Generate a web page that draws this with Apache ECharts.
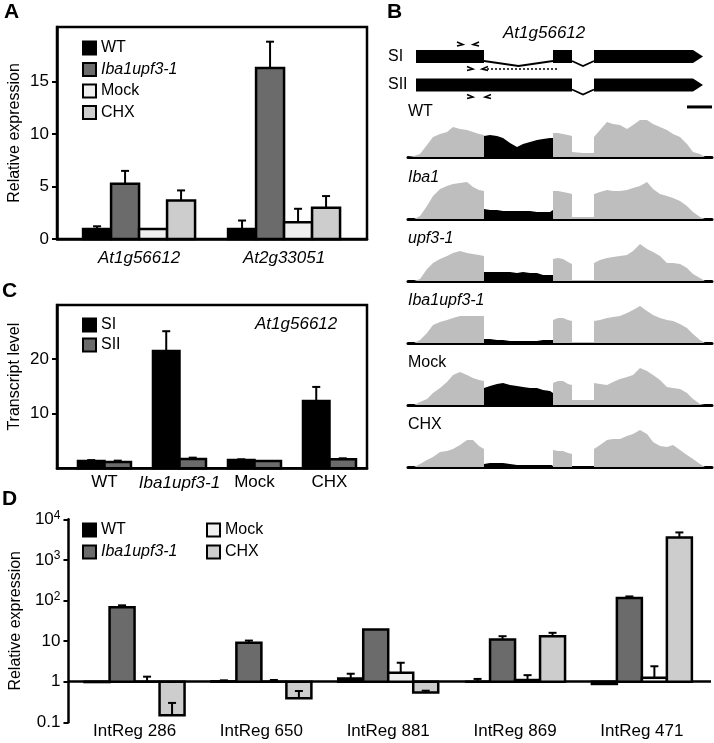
<!DOCTYPE html>
<html><head><meta charset="utf-8">
<script src="https://cdn.jsdelivr.net/npm/echarts@6/dist/echarts.min.js"></script>
<style>html,body{margin:0;padding:0;background:#fff}#c{width:714px;height:743px}</style>
</head><body><div id="c"></div>
<script>
const FONT = '"Liberation Sans", Arial, Helvetica, sans-serif';

// ---------- Panel A ----------
const catsA = ['At1g56612', 'At2g33051'];
const aWT = [0.96, 0.96],  aWTErr = [1.21, 1.76];
const aIba = [5.27, 16.3], aIbaErr = [6.49, 18.8];
const aMock = [0.96, 1.6], aMockErr = [1.02, 2.88];
const aCHX = [3.67, 2.97], aCHXErr = [4.63, 4.09];
const ticksA = [0, 5, 10, 15];

// ---------- Panel C ----------
const catsC = ['WT', 'Iba1upf3-1', 'Mock', 'CHX'];
const cSI = [1.34, 21.5, 1.5, 12.3],  cSIErr = [1.5, 25.1, 1.65, 14.9];
const cSII = [1.16, 1.7, 1.34, 1.65], cSIIErr = [1.4, 1.95, 1.45, 1.83];
const ticksC = [10, 20];

// ---------- Panel D ----------
const catsD = ['IntReg 286', 'IntReg 650', 'IntReg 881', 'IntReg 869', 'IntReg 471'];
const dWT = [0.98, 1.02, 1.2, 1.0, 0.88],    dWTErr = [0.98, 1.08, 1.57, 1.17, 0.88];
const dIba = [68, 9.1, 19.3, 10.9, 116],     dIbaErr = [76, 10.3, 19.9, 13.2, 126];
const dMock = [1.0, 1.0, 1.66, 1.1, 1.25],   dMockErr = [1.33, 1.1, 2.93, 1.45, 2.4];
const dCHX = [0.15, 0.39, 0.54, 13.2, 3570], dCHXErr = [0.30, 0.59, 0.6, 16, 4750];
const ticksD = [0.1, 1, 10, 100, 1000, 10000];

// ---------- Panel B (genomic coordinates, bp) ----------
const geneExons = [[32, 0, 304, 0], [580, 0, 656, 0], [744, 0, 1180, 1], [32, 1, 656, 0], [744, 1, 1180, 1]];
const geneIntrons = [[304, 0, 580], [656, 0, 744], [656, 1, 744]];
const primers = [[208, -0.42, 1], [272, -0.42, -1], [248, 0.44, 1], [308, 0.44, -1], [248, 1.42, 1], [320, 1.42, -1]];
const rtProduct = [[308, 0.44, 600]];
const scaleBar = [[1116, 1.77, 1216]];
const isoforms = ['SI', 'SII'];

const trackNames = ['WT', 'Iba1', 'upf3-1', 'Iba1upf3-1', 'Mock', 'CHX'];
const exon1X = [0, 24, 48, 76, 100, 128, 156, 180, 208, 236, 260, 284, 304];
const intronX = [304, 328, 356, 380, 408, 436, 460, 488, 516, 540, 568, 580];
const restX = [580, 600, 620, 640, 656, 656, 700, 744, 744, 768, 796, 820, 848, 876, 900, 928, 956, 980, 1008, 1036, 1060, 1088, 1116, 1140, 1168, 1188];

const covWT_e1 = [0, 1, 3, 12, 20, 23, 25, 30, 28, 27, 25, 23, 22];
const covWT_in = [21, 22, 21, 19, 14, 10, 13, 15, 17, 18, 19, 19];
const covWT_re = [24, 24, 23, 22, 21, 5, 4, 4, 20, 27, 35, 33, 32, 28, 32, 37, 37, 33, 30, 27, 23, 20, 13, 5, 3, 0];

const covIba_e1 = [0, 0, 3, 13, 23, 30, 33, 35, 36, 37, 32, 29, 28];
const covIba_in = [10, 9, 9, 8, 8, 8, 8, 8, 7, 7, 7, 9];
const covIba_re = [28, 28, 27, 26, 25, 2, 2, 2, 25, 27, 29, 28, 28, 29, 31, 33, 37, 30, 25, 23, 21, 18, 13, 7, 2, 0];

const covUpf_e1 = [0, 0, 2, 12, 18, 22, 25, 28, 30, 28, 27, 26, 25];
const covUpf_in = [9, 9, 9, 9, 9, 8, 9, 8, 8, 6, 6, 6];
const covUpf_re = [22, 23, 22, 19, 17, 1, 1, 1, 18, 21, 23, 24, 25, 26, 30, 37, 32, 29, 25, 18, 18, 17, 13, 7, 3, 0];

const covIbaUpf_e1 = [0, 0, 3, 10, 18, 21, 23, 25, 27, 27, 27, 27, 27];
const covIbaUpf_in = [4, 4, 3, 3, 2, 2, 2, 2, 2, 3, 3, 3];
const covIbaUpf_re = [23, 25, 25, 23, 22, 1, 1, 1, 22, 23, 25, 26, 27, 30, 33, 37, 32, 28, 25, 23, 22, 19, 15, 9, 3, 0];

const covMock_e1 = [0, 0, 3, 6, 12, 17, 23, 30, 33, 30, 27, 25, 24];
const covMock_in = [17, 19, 21, 22, 20, 19, 18, 17, 17, 15, 14, 12];
const covMock_re = [22, 24, 24, 21, 20, 5, 5, 5, 22, 21, 20, 23, 26, 28, 30, 37, 34, 30, 25, 18, 17, 16, 12, 6, 1, 0];

const covCHX_e1 = [0, 0, 3, 7, 10, 15, 16, 18, 22, 27, 27, 21, 18];
const covCHX_in = [3, 4, 4, 4, 3, 2, 2, 2, 2, 2, 2, 2];
const covCHX_re = [17, 16, 16, 14, 13, 0, 0, 0, 18, 22, 27, 28, 28, 31, 33, 37, 33, 25, 21, 20, 22, 17, 12, 8, 3, 0];

const covE1 = [covWT_e1, covIba_e1, covUpf_e1, covIbaUpf_e1, covMock_e1, covCHX_e1];
const covIn = [covWT_in, covIba_in, covUpf_in, covIbaUpf_in, covMock_in, covCHX_in];
const covRe = [covWT_re, covIba_re, covUpf_re, covIbaUpf_re, covMock_re, covCHX_re];

// ---------- styling ----------
const COL = { WT: '#000000', 'Iba1upf3-1': '#6b6b6b', Mock: '#f0f0f0', CHX: '#cdcdcd', SI: '#000000', SII: '#6b6b6b' };
const GRAY = '#bebebe';
const trackBase = [157, 219, 281, 343, 405, 467];
const trackLabelTop = [104, 170, 231, 293, 355, 417];
const trackItalic = [false, true, true, true, false, false];

function makeBarRender(sIdx, nSer, bw, base) {
  return function (params, api) {
    const cat = api.value(0), v = api.value(1), e = api.value(2);
    const off = (sIdx - (nSer - 1) / 2) * bw;
    const pv = api.coord([cat, v]);
    const pb = api.coord([cat, base]);
    const pe = api.coord([cat, e]);
    const xc = pv[0] + off;
    const children = [{
      type: 'rect',
      shape: { x: xc - bw / 2, y: Math.min(pv[1], pb[1]), width: bw, height: Math.abs(pb[1] - pv[1]) },
      style: { fill: api.visual('color'), stroke: '#000', lineWidth: 2.5 }
    }];
    if (Math.abs(pe[1] - pv[1]) > 0.8) {
      children.push({ type: 'line', shape: { x1: xc, y1: pv[1], x2: xc, y2: pe[1] }, style: { stroke: '#000', lineWidth: 2 } });
      children.push({ type: 'line', shape: { x1: xc - 4, y1: pe[1], x2: xc + 4, y2: pe[1] }, style: { stroke: '#000', lineWidth: 2 } });
    }
    return { type: 'group', children };
  };
}

function barSeries(name, axisIdx, sIdx, nSer, bw, base, vals, errs) {
  return {
    type: 'custom', name, xAxisIndex: axisIdx, yAxisIndex: axisIdx,
    itemStyle: { color: COL[name] }, z: 3, silent: true,
    data: vals.map((v, i) => [i, v, errs[i]]), encode: { x: 0, y: 1 },
    renderItem: makeBarRender(sIdx, nSer, bw, base)
  };
}

const italicName = n => (n === 'Iba1upf3-1' ? '{i|' + n + '}' : n);
const blackLine = w => ({ show: true, onZero: false, lineStyle: { color: '#000', width: w } });

function legendCfg(names, left, top, gap) {
  return {
    orient: 'vertical', left, top, itemGap: gap, itemWidth: 13, itemHeight: 13,
    selectedMode: false, icon: 'rect', padding: 0,
    data: names.map(n => ({ name: n, icon: 'rect', itemStyle: { color: COL[n], borderColor: '#000', borderWidth: 2 } })),
    formatter: italicName,
    textStyle: { fontSize: 16, color: '#000', fontFamily: FONT, rich: { i: { fontStyle: 'italic', fontSize: 16, color: '#000', fontFamily: FONT } } }
  };
}

const xAxes = [], yAxes = [], grids = [], series = [];

// grid 0: A
grids.push({ left: 57, top: 27, width: 310, height: 212, show: true, borderColor: '#000', borderWidth: 2.5 });
xAxes.push({
  gridIndex: 0, type: 'value', min: -0.566, max: 1.572, axisLine: blackLine(2.5), axisTick: { show: false }, splitLine: { show: false },
  axisLabel: { customValues: [0, 1], margin: 11, formatter: v => '{i|' + catsA[Math.round(v)] + '}',
    rich: { i: { fontStyle: 'italic', fontSize: 17, color: '#000', fontFamily: FONT } } }
});
yAxes.push({
  gridIndex: 0, type: 'value', min: 0, max: 20.2, axisLine: blackLine(2.5), splitLine: { show: false },
  axisTick: { show: true, customValues: ticksA, length: 5, lineStyle: { color: '#000', width: 2 } },
  axisLabel: { customValues: ticksA, fontSize: 17, color: '#000', fontFamily: FONT, margin: 8 },
  name: 'Relative expression', nameLocation: 'middle', nameGap: 34,
  nameTextStyle: { fontSize: 16, color: '#000', fontFamily: FONT }
});

// grid 1: C
grids.push({ left: 57, top: 305, width: 310, height: 163.3, show: true, borderColor: '#000', borderWidth: 2.5 });
xAxes.push({
  gridIndex: 1, type: 'value', min: -0.633, max: 3.5, axisLine: blackLine(2.5), axisTick: { show: false }, splitLine: { show: false },
  axisLabel: { customValues: [0, 1, 2, 3], margin: 6, formatter: v => italicName(catsC[Math.round(v)]),
    fontSize: 17, color: '#000', fontFamily: FONT,
    rich: { i: { fontStyle: 'italic', fontSize: 17, color: '#000', fontFamily: FONT } } }
});
yAxes.push({
  gridIndex: 1, type: 'value', min: 0, max: 29.9, axisLine: blackLine(2.5), splitLine: { show: false },
  axisTick: { show: true, customValues: ticksC, length: 5, lineStyle: { color: '#000', width: 2 } },
  axisLabel: { customValues: ticksC, fontSize: 17, color: '#000', fontFamily: FONT, margin: 8 },
  name: 'Transcript level', nameLocation: 'middle', nameGap: 34,
  nameTextStyle: { fontSize: 16, color: '#000', fontFamily: FONT, padding: [0, 0, 0, 20] }
});

// grid 2: D
grids.push({ left: 60, top: 519.3, width: 651, height: 203 });
xAxes.push({
  gridIndex: 2, type: 'value', min: -0.521, max: 4.545, axisLine: { show: false, onZero: false }, axisTick: { show: false }, splitLine: { show: false },
  axisLabel: { customValues: [0, 1, 2, 3, 4], margin: 1, formatter: v => catsD[Math.round(v)],
    fontSize: 17, color: '#000', fontFamily: FONT }
});
const supLabel = v => {
  const p = Math.round(Math.log10(v));
  if (p === -1) return '{b|0.1}';
  if (p === 0) return '{b|1}';
  if (p === 1) return '{b|10}';
  return '{b|10}{s|' + p + '}';
};
yAxes.push({
  gridIndex: 2, type: 'log', logBase: 10, min: 0.1, max: 10000, axisLine: blackLine(2.5), splitLine: { show: false },
  axisTick: { show: true, customValues: ticksD, length: 5, lineStyle: { color: '#000', width: 2 } },
  axisLabel: { customValues: ticksD, margin: 8, formatter: supLabel,
    rich: { b: { fontSize: 17, color: '#000', fontFamily: FONT, lineHeight: 20 },
            s: { fontSize: 12, color: '#000', fontFamily: FONT, verticalAlign: 'top', lineHeight: 12 } } },
  name: 'Relative expression', nameLocation: 'middle', nameGap: 37,
  nameTextStyle: { fontSize: 16, color: '#000', fontFamily: FONT }
});

// grid 3: gene model
grids.push({ left: 408, top: 28, width: 304, height: 85.5 });
xAxes.push({ gridIndex: 3, type: 'value', min: 0, max: 1216, show: false });
yAxes.push({
  gridIndex: 3, type: 'value', min: -1, max: 2, inverse: true, axisLine: { show: false, onZero: false }, axisTick: { show: false }, splitLine: { show: false },
  axisLabel: { customValues: [0, 1], formatter: v => isoforms[Math.round(v)], align: 'left', margin: 20, fontSize: 16, color: '#000', fontFamily: FONT }
});

// grids 4..9: coverage tracks
trackNames.forEach((n, t) => {
  const gi = 4 + t;
  grids.push({ left: 408, top: trackBase[t] - 42, width: 304, height: 42 });
  xAxes.push({ gridIndex: gi, type: 'value', min: 0, max: 1216, axisLine: blackLine(3), axisTick: { show: false }, axisLabel: { show: false }, splitLine: { show: false } });
  yAxes.push({ gridIndex: gi, type: 'value', min: 0, max: 42, show: false, axisLine: { onZero: false }, splitLine: { show: false } });
  const common = { type: 'line', xAxisIndex: gi, yAxisIndex: gi, symbol: 'none', showSymbol: false, silent: true, lineStyle: { width: 0 } };
  series.push(Object.assign({}, common, { name: n + ' exon1', data: exon1X.map((x, i) => [x, covE1[t][i]]), areaStyle: { color: GRAY, opacity: 1 } }));
  series.push(Object.assign({}, common, { name: n + ' retained intron', data: intronX.map((x, i) => [x, covIn[t][i]]), areaStyle: { color: '#000', opacity: 1 } }));
  series.push(Object.assign({}, common, { name: n + ' downstream', data: restX.map((x, i) => [x, covRe[t][i]]), areaStyle: { color: GRAY, opacity: 1 } }));
});

// bars
['WT', 'Iba1upf3-1', 'Mock', 'CHX'].forEach((n, j) => {
  const v = [aWT, aIba, aMock, aCHX][j], e = [aWTErr, aIbaErr, aMockErr, aCHXErr][j];
  series.push(barSeries(n, 0, j, 4, 28, 0, v, e));
});
series.push(barSeries('SI', 1, 0, 2, 26.5, 0, cSI, cSIErr));
series.push(barSeries('SII', 1, 1, 2, 26.5, 0, cSII, cSIIErr));
['WT', 'Iba1upf3-1', 'Mock', 'CHX'].forEach((n, j) => {
  const v = [dWT, dIba, dMock, dCHX][j], e = [dWTErr, dIbaErr, dMockErr, dCHXErr][j];
  const s = barSeries(n, 2, j, 4, 25, 1, v, e);
  if (j === 0) {
    s.markLine = { silent: true, symbol: 'none', data: [{ yAxis: 1 }], label: { show: false }, lineStyle: { color: '#000', width: 2.5, type: 'solid' }, z: 2 };
  }
  series.push(s);
});

// gene model
series.push({
  type: 'custom', name: 'exons', xAxisIndex: 3, yAxisIndex: 3, silent: true,
  data: geneExons.map(g => [g[0], g[1], g[2], g[3]]), encode: { x: [0, 2], y: 1 },
  renderItem: (params, api) => {
    const p1 = api.coord([api.value(0), api.value(1)]), p2 = api.coord([api.value(2), api.value(1)]);
    const h = 6.5, y = p1[1];
    if (api.value(3)) {
      return { type: 'polygon', shape: { points: [[p1[0], y - h], [p2[0] - 10, y - h], [p2[0], y], [p2[0] - 10, y + h], [p1[0], y + h]] }, style: { fill: '#000' } };
    }
    return { type: 'rect', shape: { x: p1[0], y: y - h, width: p2[0] - p1[0], height: 2 * h }, style: { fill: '#000' } };
  }
});
series.push({
  type: 'custom', name: 'introns', xAxisIndex: 3, yAxisIndex: 3, silent: true,
  data: geneIntrons.map(g => [g[0], g[1], g[2]]), encode: { x: [0, 2], y: 1 },
  renderItem: (params, api) => {
    const p1 = api.coord([api.value(0), api.value(1)]), p2 = api.coord([api.value(2), api.value(1)]);
    return { type: 'polyline', shape: { points: [[p1[0], p1[1] + 4.5], [(p1[0] + p2[0]) / 2, p1[1] + 9.5], [p2[0], p1[1] + 4.5]] }, style: { stroke: '#000', lineWidth: 1.8, fill: null } };
  }
});
series.push({
  type: 'custom', name: 'primers', xAxisIndex: 3, yAxisIndex: 3, silent: true,
  data: primers.map(g => [g[0], g[1], g[2]]), encode: { x: 0, y: 1 },
  renderItem: (params, api) => {
    const p = api.coord([api.value(0), api.value(1)]), d = api.value(2);
    return { type: 'polyline', shape: { points: [[p[0] - 3 * d, p[1] - 2.5], [p[0] + 3 * d, p[1]], [p[0] - 3 * d, p[1] + 1.5]] }, style: { stroke: '#000', lineWidth: 1.5, fill: null } };
  }
});
series.push({
  type: 'custom', name: 'rt product', xAxisIndex: 3, yAxisIndex: 3, silent: true,
  data: rtProduct.map(g => [g[0], g[1], g[2]]), encode: { x: [0, 2], y: 1 },
  renderItem: (params, api) => {
    const p1 = api.coord([api.value(0), api.value(1)]), p2 = api.coord([api.value(2), api.value(1)]);
    return { type: 'line', shape: { x1: p1[0] + 2, y1: p1[1], x2: p2[0], y2: p2[1] }, style: { stroke: '#000', lineWidth: 1.5, lineDash: [2, 2] } };
  }
});
series.push({
  type: 'custom', name: 'scale bar', xAxisIndex: 3, yAxisIndex: 3, silent: true,
  data: scaleBar.map(g => [g[0], g[1], g[2]]), encode: { x: [0, 2], y: 1 },
  renderItem: (params, api) => {
    const p1 = api.coord([api.value(0), api.value(1)]), p2 = api.coord([api.value(2), api.value(1)]);
    return { type: 'line', shape: { x1: p1[0], y1: p1[1], x2: p2[0], y2: p2[1] }, style: { stroke: '#000', lineWidth: 3 } };
  }
});

// titles / labels
const ts = (size, extra) => Object.assign({ fontSize: size, color: '#000', fontFamily: FONT, fontWeight: 'normal' }, extra || {});
const titles = [
  { text: 'A', left: 4, top: 2, padding: 0, textStyle: ts(21, { fontWeight: 'bold' }) },
  { text: 'B', left: 387, top: 2, padding: 0, textStyle: ts(21, { fontWeight: 'bold' }) },
  { text: 'C', left: 2, top: 281, padding: 0, textStyle: ts(21, { fontWeight: 'bold' }) },
  { text: 'D', left: 2, top: 489, padding: 0, textStyle: ts(21, { fontWeight: 'bold' }) },
  { text: 'At1g56612', left: 503, top: 25, padding: 0, textStyle: ts(17, { fontStyle: 'italic' }) },
  { text: 'At1g56612', left: 255, top: 316, padding: 0, textStyle: ts(17, { fontStyle: 'italic' }) }
];
trackNames.forEach((n, t) => {
  titles.push({ text: n, left: 408, top: trackLabelTop[t], padding: 0, textStyle: ts(16, trackItalic[t] ? { fontStyle: 'italic' } : {}) });
});

const chart = echarts.init(document.getElementById('c'), null, { renderer: 'canvas' });
chart.setOption({
  animation: false,
  backgroundColor: '#fff',
  title: titles,
  legend: [
    legendCfg(['WT', 'Iba1upf3-1', 'Mock', 'CHX'], 82, 40, 5.5),
    legendCfg(['SI', 'SII'], 82, 317, 4),
    legendCfg(['WT', 'Iba1upf3-1'], 82, 522, 6),
    legendCfg(['Mock', 'CHX'], 206, 522, 6)
  ],
  grid: grids,
  xAxis: xAxes,
  yAxis: yAxes,
  series
});
</script>
</body></html>
